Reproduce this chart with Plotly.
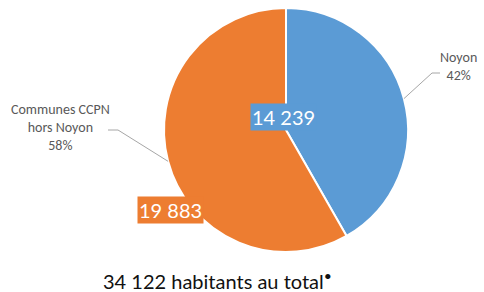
import math
import plotly.graph_objects as go

labels = ["Noyon", "Communes CCPN<br>hors Noyon"]
values = [14239, 19883]
colors = ["#5B9BD5", "#ED7D31"]
total_text = "34 122 habitants au total"

W, H = 484, 292
cx_px, cy_px, r_px = 286, 130, 122
dom_x = [(cx_px - 141) / W, (cx_px + 141) / W]
dom_y = [1 - (cy_px + r_px) / H, 1 - (cy_px - r_px) / H]

fig = go.Figure(go.Pie(
    labels=labels, values=values, sort=False, direction="clockwise", rotation=0,
    marker=dict(colors=colors, line=dict(color="white", width=2)),
    textinfo="none", hoverinfo="skip", showlegend=False,
    domain=dict(x=dom_x, y=dom_y),
))

def fmt(v):
    return f"{v:,}".replace(",", " ")

tot = sum(values)
# value boxes
value_pos = [(283, 117), (170, 210)]
for v, c, (px, py) in zip(values, colors, value_pos):
    fig.add_annotation(x=px / W, y=1 - py / H, xref="paper", yref="paper",
                       xanchor="center", yanchor="middle",
                       text=fmt(v), showarrow=False, bgcolor=c, borderpad=1,
                       font=dict(family="Lato", size=20, color="white"))

# outside labels with elbow leader lines
label_pos = [(458, 66, 440, 73, "left"), (60, 127, 108, 130, "right")]
cum = 0
for v, lab, (lx, ly, ex, ey, side) in zip(values, labels, label_pos):
    frac = v / tot
    mid = (cum + frac / 2) * 2 * math.pi
    cum += frac
    px = cx_px + r_px * math.sin(mid)
    py = cy_px - r_px * math.cos(mid)
    pct = round(frac * 100)
    fig.add_annotation(x=lx / W, y=1 - ly / H, xref="paper", yref="paper",
                       xanchor="center", yanchor="middle",
                       text=f"{lab}<br>{pct}%", showarrow=False,
                       font=dict(family="Carlito, Calibri, Lato", size=14, color="#595959"))
    hx = ex - 8 if side == "left" else ex + 10
    fig.add_shape(type="path", xref="paper", yref="paper",
                  path=f"M {ex / W} {1 - ey / H} L {hx / W} {1 - ey / H} L {px / W} {1 - py / H}",
                  line=dict(color="#A6A6A6", width=1))

fig.add_annotation(x=101 / W, y=1 - 280 / H, xref="paper", yref="paper",
                   xanchor="left", yanchor="middle",
                   text=total_text + "<sup>•</sup>", showarrow=False,
                   font=dict(family="Lato", size=20, color="#111111"))

fig.update_layout(width=W, height=H, margin=dict(l=0, r=0, t=0, b=0),
                  paper_bgcolor="white", plot_bgcolor="white")
fig.write_html("out.html", config={"displayModeBar": False},
               post_script="document.body.style.margin='0';document.body.style.padding='0';")
